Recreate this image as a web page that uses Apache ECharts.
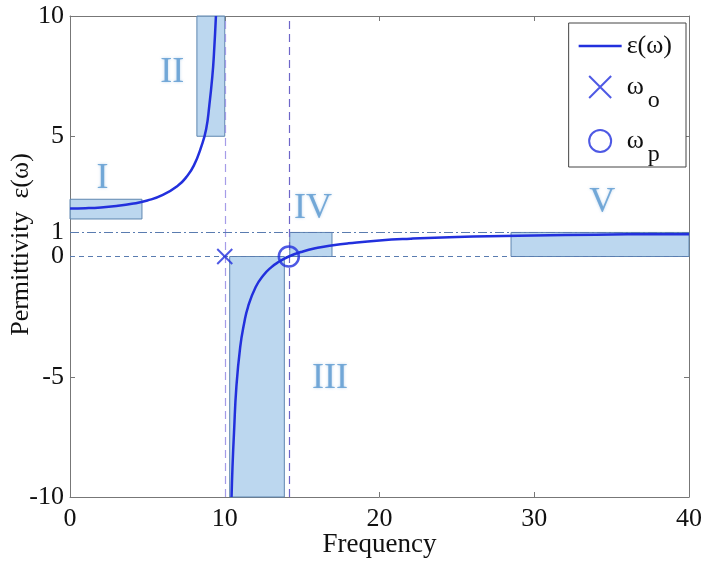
<!DOCTYPE html>
<html><head><meta charset="utf-8">
<script src="https://cdn.jsdelivr.net/npm/echarts@6/dist/echarts.min.js"></script>
<style>html,body{margin:0;padding:0;background:#fff}#c{width:706px;height:566px}</style>
</head><body><div id="c"></div>
<script>
// Curve: branch below the resonance and branch above it
const branch1 = [[0,2.00],[1,2.01],[2,2.04],[3,2.10],[4,2.19],[5,2.33],[6,2.56],[7,2.96],[7.5,3.29],[8,3.78],[8.5,4.60],[8.8,5.30],[9,6.26],[9.2,7.51],[9.3,8.40],[9.43,10.0]];
const branch2 = [[10.44,-10.0],[10.5,-8.76],[10.6,-7.3],[10.75,-5.43],[11,-3.76],[11.25,-2.79],[11.5,-2.10],[12,-1.27],[12.5,-0.78],[13,-0.45],[13.5,-0.22],[14.14,0],[15,0.20],[16,0.36],[17,0.47],[18,0.55],[20,0.67],[22,0.74],[25,0.81],[28,0.85],[32,0.89],[36,0.92],[40,0.93]];
const omegaO = [10, 0];
const omegaP = [14.14, 0];
// Shaded regions [x0, x1, y0, y1]
const regions = [[0,4.65,1.56,2.38],[8.2,10.0,5,10],[10.32,13.85,-10,0],[14.2,16.93,0,1],[28.5,40,0,1]];
const regionNames = ['I','II','III','IV','V'];
const regionLabelPos = [[2.1,3.25],[6.6,7.66],[16.8,-5.06],[15.7,2.0],[34.4,2.26]];
const yTicks = [-10,-5,0,1,5,10];
const xTicks = [0,10,20,30,40];

const serif = '"Liberation Serif","DejaVu Serif",serif';
const blue = '#2230dd';
const chart = echarts.init(document.getElementById('c'));
const line = {show:true,onZero:false,lineStyle:{color:'#777',width:1}};
const tick = {show:true,inside:true,length:5,lineStyle:{color:'#777'}};
chart.setOption({
  animation:false,
  backgroundColor:'#fff',
  grid:{left:70,right:17,top:16,bottom:69,containLabel:false,outerBoundsMode:'none'},
  xAxis:[
    {type:'value',min:0,max:40,interval:10,position:'bottom',
      name:'Frequency',nameLocation:'middle',nameGap:34,nameMoveOverlap:false,
      nameTextStyle:{fontFamily:serif,fontSize:27,color:'#111'},
      axisLine:line,axisTick:tick,splitLine:{show:false},
      axisLabel:{fontFamily:serif,fontSize:26,color:'#111',margin:9}},
    {type:'value',min:0,max:40,interval:10,position:'top',axisLabel:{show:false},
      axisLine:line,axisTick:tick,splitLine:{show:false}}
  ],
  yAxis:[
    {type:'value',min:-10,max:10,position:'left',
      name:'Permittivity  ε(ω)',nameLocation:'middle',nameGap:36,nameMoveOverlap:false,
      nameTextStyle:{fontFamily:serif,fontSize:26,color:'#111',padding:[0,0,0,24]},
      axisLine:line,splitLine:{show:false},
      axisLabel:{fontFamily:serif,fontSize:26,color:'#111',margin:6,customValues:yTicks},
      axisTick:Object.assign({customValues:yTicks},tick)},
    {type:'value',min:-10,max:10,position:'right',axisLabel:{show:false},
      axisLine:line,splitLine:{show:false},
      axisTick:Object.assign({customValues:yTicks},tick)}
  ],
  legend:{
    orient:'vertical',right:20,top:23,
    backgroundColor:'#fff',borderColor:'#444',borderWidth:1,
    padding:[10,14,0,10],itemGap:15,itemWidth:43,itemHeight:22,
    data:[{name:'ε(ω)',icon:'path://M0,0L43,0L43,2.5L0,2.5Z'},'ωo','ωp'],
    formatter:function(n){
      if(n==='ωo') return '{a|ω}{s|o}';
      if(n==='ωp') return '{a|ω}{s|p}';
      return '{a|ε(ω)}';
    },
    textStyle:{fontFamily:serif,fontSize:26,color:'#111',
      rich:{a:{fontFamily:serif,fontSize:26,color:'#111'},
            s:{fontFamily:serif,fontSize:24,color:'#111',padding:[28,0,0,4]}}}
  },
  series:[
    {type:'line',name:'regions',data:[],silent:true,z:1,
      markArea:{silent:true,
        itemStyle:{color:'rgba(160,198,232,0.7)',borderColor:'#5f86b0',borderWidth:1},
        data:regions.map(r=>[{coord:[r[0],r[3]]},{coord:[r[1],r[2]]}])},
      markLine:{silent:true,symbol:'none',label:{show:false},
        data:[
          {xAxis:omegaO[0],lineStyle:{color:'#a59ce8',type:[8,5],width:1.2}},
          {xAxis:omegaP[0],lineStyle:{color:'#6e66c8',type:[8,5],width:1.2}},
          {yAxis:0,lineStyle:{color:'#5a7cb0',type:[5,4],width:1}},
          {yAxis:1,lineStyle:{color:'#5a7cb0',type:[9,3,2,3],width:1}}
        ]}
    },
    {type:'line',name:'ε(ω)',data:branch1,showSymbol:false,symbol:'none',smooth:true,z:5,
      lineStyle:{color:blue,width:2.5},itemStyle:{color:blue}},
    {type:'line',name:'ε(ω)',data:branch2,showSymbol:false,symbol:'none',smooth:true,z:5,
      lineStyle:{color:blue,width:2.5},itemStyle:{color:blue}},
    {type:'scatter',name:'ωo',data:[omegaO],symbol:'path://M0,0L10,10M10,0L0,10',symbolSize:15,z:6,
      itemStyle:{color:'rgba(0,0,0,0)',borderColor:blue,borderWidth:2}},
    {type:'scatter',name:'ωp',data:[omegaP],symbol:'circle',symbolSize:20,z:6,
      itemStyle:{color:'rgba(0,0,0,0)',borderColor:blue,borderWidth:2.5}},
    {type:'scatter',name:'labels',data:regionLabelPos.map((p,i)=>({value:p,name:regionNames[i]})),
      symbolSize:0,z:7,silent:true,
      label:{show:true,position:'inside',formatter:'{b}',fontFamily:serif,fontSize:36,color:'#5a98d0',
        textShadowColor:'rgba(120,170,220,0.6)',textShadowBlur:3}}
  ]
});
</script></body></html>
